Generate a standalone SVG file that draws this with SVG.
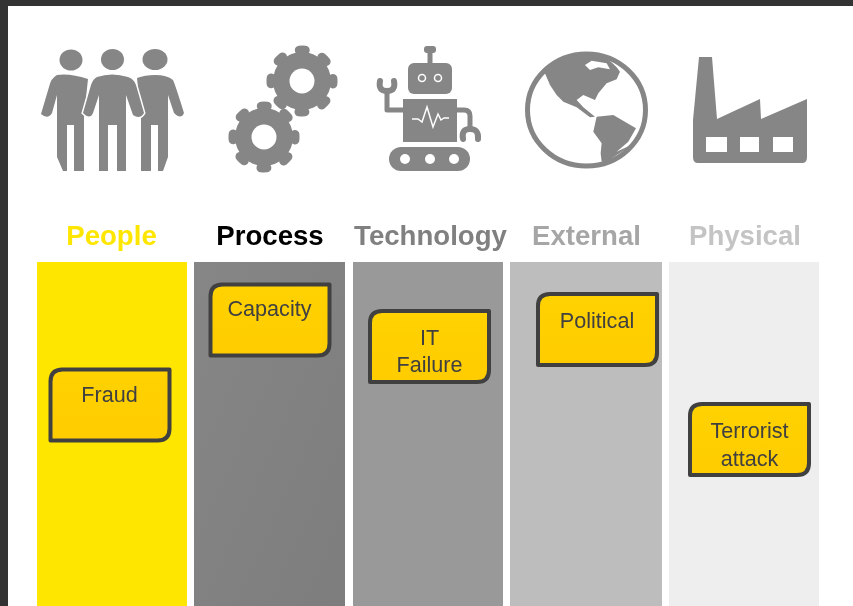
<svg xmlns="http://www.w3.org/2000/svg" width="853" height="606" viewBox="0 0 853 606">
<style>
.icon{fill:#868686}
.wht{fill:#fff}
.arm{fill:none;stroke:#868686;stroke-linecap:round;stroke-linejoin:round}
.lbl{font:bold 27.6px "Liberation Sans",Arial,sans-serif;text-anchor:middle}
.nt{font:21.600px "Liberation Sans",Arial,sans-serif;text-anchor:middle;fill:#404040}
.box{fill:url(#nodeFill);stroke:#404040;stroke-width:4;stroke-linejoin:round}
.node{filter:url(#soft)}
</style>
<defs>
<linearGradient id="nodeFill" x1="0" y1="0" x2="0" y2="1"><stop offset="0" stop-color="#ffd200"/><stop offset="1" stop-color="#ffcc00"/></linearGradient>
<linearGradient id="procFill" x1="0" y1="0" x2="1" y2="1"><stop offset="0" stop-color="#868686"/><stop offset="1" stop-color="#7d7d7d"/></linearGradient>
<filter id="soft" x="-5%" y="-5%" width="110%" height="110%"><feGaussianBlur stdDeviation="0.5"/></filter>
<path id="node" class="box" d="M12 0H119V59Q119 71 107 71H0V12Q0 0 12 0Z"/>
<g id="gear">
<circle r="29" class="icon"/>
<circle r="31" fill="none" stroke="#868686" stroke-width="9" stroke-linecap="round" stroke-dasharray="6 18.350" stroke-dashoffset="3"/>
<circle r="12.500" class="wht"/>
</g>
</defs>
<rect width="853" height="606" fill="#fff"/>
<path d="M0 0H853V6H8V606H0Z" fill="#333"/>

<g id="columns">
<rect x="37" y="262" width="150" height="344" fill="#ffe600"/>
<rect x="194" y="262" width="151" height="344" fill="url(#procFill)"/>
<rect x="353" y="262" width="150" height="344" fill="#999"/>
<rect x="510" y="262" width="152" height="344" fill="#bdbdbd"/>
<rect x="669" y="262" width="150" height="344" fill="#eee"/>
</g>

<g id="icons" filter="url(#soft)">
<g id="icon-people">
<ellipse cx="71" cy="60" rx="11.500" ry="10.500" class="icon"/>
<ellipse cx="112.500" cy="59.500" rx="11.500" ry="10.500" class="icon"/>
<ellipse cx="155" cy="59.500" rx="12.500" ry="10.500" class="icon"/>
<path class="icon" d="M57 75Q70 73 88 79L84 117V171H74V125H67V171H63L57 157V95L52 113Q48 120 41 114L49 87Q51 78 57 75Z"/>
<path class="icon" d="M155 75Q167 75 173 80Q175 84 184 113Q181 120 174 113L168 95V157L163 171H158V125H151V171H141V117L137 78Q145 75 155 75Z"/>
<path class="icon" stroke="#fff" stroke-width="3" paint-order="stroke" d="M97 77Q112 72 128 77Q134 79 136 85L144 113Q140 120 133 115L126 95V171H117V125H108V171H99V95L93 113Q90 120 83 113L91 85Q93 79 97 77Z"/>
</g>
<g id="icon-process">
<use href="#gear" x="302" y="81"/>
<use href="#gear" x="264" y="137"/>
</g>
<g id="icon-technology">
<rect x="408" y="63" width="44" height="31" rx="6" class="icon"/>
<path class="arm" stroke-width="5" d="M430 63V50"/>
<rect x="424" y="46" width="12" height="7" rx="3" class="icon"/>
<circle cx="422" cy="78" r="3.500" fill="none" stroke="#fff" stroke-width="1.500"/>
<circle cx="438" cy="78" r="3.500" fill="none" stroke="#fff" stroke-width="1.500"/>
<rect x="403" y="99" width="54" height="43" class="icon"/>
<path d="M412 119H418L422 122L427 107L433 127L438 114L441 120L444 118H449" fill="none" stroke="#fff" stroke-width="1.500"/>
<rect x="389" y="147" width="81" height="24" rx="12" class="icon"/>
<circle cx="405" cy="159" r="5" class="wht"/>
<circle cx="430" cy="159" r="5" class="wht"/>
<circle cx="454" cy="159" r="5" class="wht"/>
<path class="arm" stroke-width="5" d="M403 110H387V91"/>
<path class="arm" stroke-width="6" d="M380 81Q378 91 387 91Q396 91 394 81"/>
<path class="arm" stroke-width="5" d="M457 110H464Q470 110 470 116V129"/>
<path class="arm" stroke-width="6" d="M463 139Q461 129 470 129Q479 129 478 139"/>
</g>
<g id="icon-external">
<ellipse cx="586.500" cy="110" rx="59" ry="56" fill="none" stroke="#868686" stroke-width="5"/>
<g transform="translate(350 20) scale(.3333)">
<path class="icon" d="M585 160Q640 100 710 97Q775 105 810 155L800 178L770 190L745 220L735 240L700 225L680 240L700 262L735 290L720 292L680 262L640 245L620 225L600 195Z"/>
<path class="wht" d="M705 135L725 122L770 130L780 148L745 142L720 150Z"/>
<path class="icon" d="M740 290L790 285L858 325L835 365L800 395L850 372L770 425L755 425L752 400L755 370L730 335Z"/>
</g>
</g>
<g id="icon-physical">
<path class="icon" d="M699 57H712L717 119L760 99L761 119L807 99V157Q807 163 802 163H698Q693 163 693 157V120Z"/>
<rect x="706" y="137" width="21" height="15" class="wht"/>
<rect x="740" y="137" width="19" height="15" class="wht"/>
<rect x="773" y="137" width="20" height="15" class="wht"/>
</g>
</g>

<g id="labels" filter="url(#soft)">
<text x="111.500" y="245" class="lbl" fill="#ffe600">People</text>
<text x="270" y="245" class="lbl" fill="#000">Process</text>
<text x="430.500" y="245" class="lbl" fill="#808080">Technology</text>
<text x="586.500" y="245" class="lbl" fill="#a6a6a6">External</text>
<text x="745" y="245" class="lbl" fill="#c4c4c4">Physical</text>
</g>

<g id="connectors"></g>

<g id="node-fraud" class="node"><use href="#node" x="50.500" y="369.500"/><text x="109.500" y="402" class="nt">Fraud</text></g>
<g id="node-capacity" class="node"><use href="#node" x="210.500" y="284.500"/><text x="269.500" y="316" class="nt">Capacity</text></g>
<g id="node-it-failure" class="node"><use href="#node" x="370" y="311"/><text x="429.500" y="345" class="nt">IT</text><text x="429.500" y="372" class="nt">Failure</text></g>
<g id="node-political" class="node"><use href="#node" x="538" y="294"/><text x="597" y="328" class="nt">Political</text></g>
<g id="node-terrorist" class="node"><use href="#node" x="690" y="404"/><text x="749.500" y="438" class="nt">Terrorist</text><text x="749.500" y="466" class="nt">attack</text></g>
</svg>
